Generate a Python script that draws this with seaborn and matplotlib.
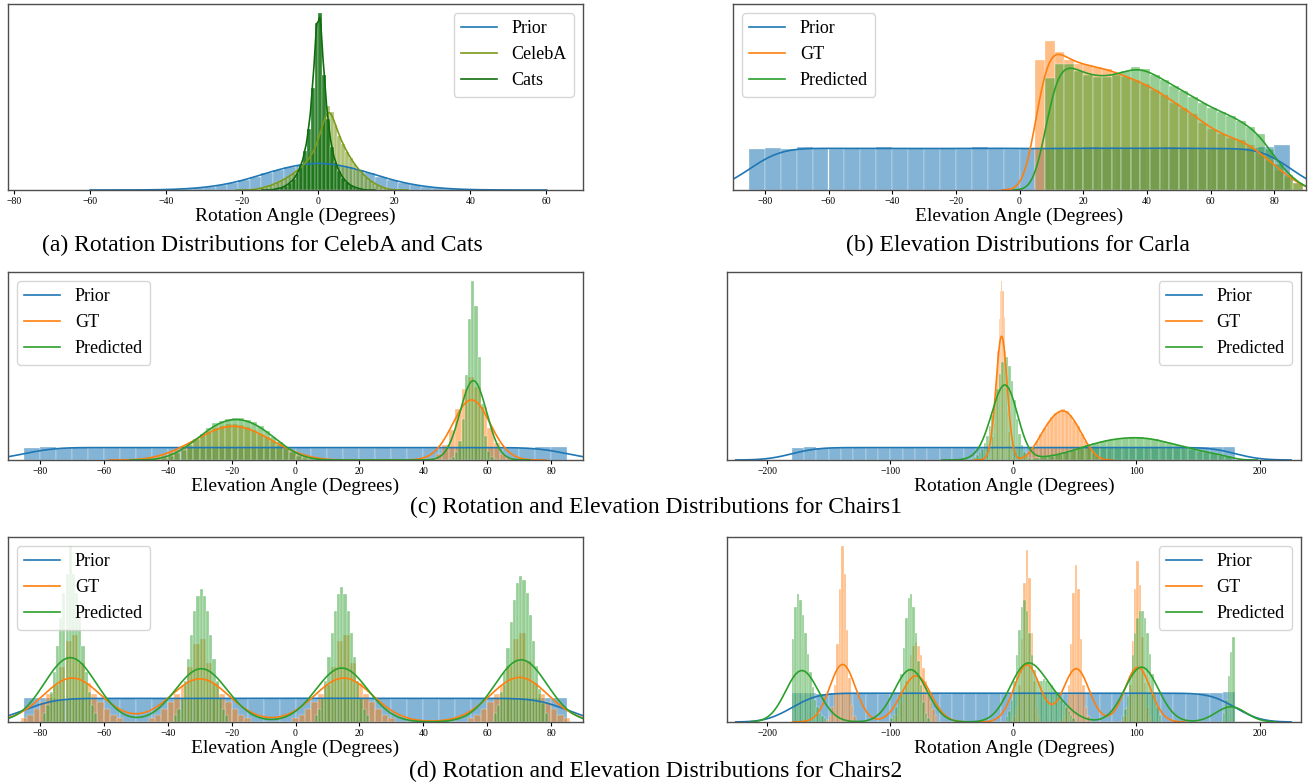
import numpy as np
import matplotlib
matplotlib.use("Agg")
import matplotlib.pyplot as plt
import seaborn as sns

plt.rcParams["font.family"] = ["Liberation Serif", "DejaVu Serif"]

# each series is a list of segments: (left edge, bin width, bar heights)
# heights are read as a fraction of the panel height

# (a) rotation, CelebA and Cats
a_prior = [(-48, 3, [0.0005, 0.001, 0.002, 0.004, 0.007, 0.011, 0.018, 0.027, 0.039, 0.054,
                     0.072, 0.092, 0.109, 0.125, 0.137, 0.144, 0.144, 0.137, 0.125, 0.109,
                     0.092, 0.072, 0.054, 0.039, 0.027, 0.018, 0.011, 0.007, 0.004, 0.002,
                     0.001, 0.0005])]
a_celeba = [(-17, 1, [0.005, 0.008, 0.012, 0.018, 0.025, 0.033, 0.042, 0.052, 0.063, 0.076,
                      0.09, 0.105, 0.122, 0.142, 0.165, 0.195, 0.24, 0.3, 0.38, 0.45,
                      0.42, 0.35, 0.29, 0.245, 0.205, 0.17, 0.14, 0.113, 0.09, 0.07,
                      0.053, 0.039, 0.027, 0.017, 0.01, 0.005])]
a_cats = [(-12, 1, [0.004, 0.008, 0.014, 0.024, 0.038, 0.058, 0.09, 0.135, 0.21, 0.33, 0.55, 0.9,
                    0.95, 0.62, 0.38, 0.23, 0.15, 0.1, 0.065, 0.042, 0.026, 0.016, 0.009, 0.004])]

# (b) elevation, Carla
b_prior = [(-85, 5, [0.22, 0.225, 0.22, 0.23, 0.225, 0.22, 0.225, 0.22, 0.23, 0.22, 0.225, 0.22,
                     0.225, 0.22, 0.23, 0.225, 0.22, 0.225, 0.22, 0.225, 0.22, 0.23, 0.225, 0.22,
                     0.225, 0.22, 0.23, 0.225, 0.22, 0.225, 0.22, 0.225, 0.23, 0.24])]
b_gt = [(5, 3, [0.7, 0.8, 0.74, 0.7, 0.68, 0.67, 0.66, 0.65, 0.63, 0.61, 0.59, 0.57, 0.54, 0.51,
                0.47, 0.44, 0.41, 0.36, 0.33, 0.3, 0.28, 0.27, 0.24, 0.2, 0.16, 0.11, 0.07, 0.04])]
b_pred = [(8, 3, [0.6, 0.68, 0.68, 0.64, 0.62, 0.61, 0.61, 0.62, 0.64, 0.66, 0.65, 0.62, 0.59, 0.56,
                  0.53, 0.5, 0.47, 0.44, 0.42, 0.4, 0.37, 0.34, 0.3, 0.22, 0.14, 0.08, 0.04])]

# (c) Chairs1, elevation
c1_prior = [(-85, 5, [0.066, 0.068, 0.066, 0.067, 0.066, 0.065, 0.066, 0.067, 0.066, 0.066, 0.065, 0.066,
                      0.067, 0.066, 0.066, 0.065, 0.066, 0.067, 0.066, 0.066, 0.065, 0.066, 0.067, 0.066,
                      0.066, 0.065, 0.066, 0.067, 0.066, 0.066, 0.065, 0.066, 0.067, 0.068])]
c1_gt = [(-48, 2, [0.005, 0.01, 0.017, 0.026, 0.04, 0.055, 0.072, 0.092, 0.112, 0.132, 0.15, 0.168,
                   0.18, 0.19, 0.19, 0.185, 0.175, 0.16, 0.14, 0.12, 0.1, 0.08, 0.062, 0.046, 0.032,
                   0.02, 0.012, 0.006, 0.003]),
         (42, 2, [0.01, 0.03, 0.08, 0.16, 0.27, 0.38, 0.44, 0.39, 0.28, 0.17, 0.09, 0.03, 0.01])]
c1_pred = [(-42, 2, [0.01, 0.02, 0.035, 0.055, 0.08, 0.11, 0.14, 0.17, 0.195, 0.21, 0.22, 0.225,
                     0.225, 0.215, 0.2, 0.18, 0.155, 0.125, 0.095, 0.065, 0.04, 0.022, 0.01, 0.004]),
           (48, 1, [0.005, 0.015, 0.04, 0.1, 0.22, 0.45, 0.75, 0.95, 0.82, 0.55, 0.3, 0.13, 0.05,
                    0.015, 0.005])]

# (c) Chairs1, rotation
c2_prior = [(-180, 10, [0.066, 0.067, 0.065, 0.066, 0.066, 0.067, 0.066, 0.065, 0.066, 0.067, 0.066, 0.066,
                        0.065, 0.066, 0.067, 0.066, 0.066, 0.065, 0.066, 0.067, 0.066, 0.066, 0.065, 0.066,
                        0.067, 0.066, 0.066, 0.065, 0.066, 0.067, 0.066, 0.066, 0.065, 0.067, 0.07, 0.068])]
c2_gt = [(-22, 1, [0.005, 0.01, 0.02, 0.04, 0.07, 0.12, 0.19, 0.29, 0.42, 0.58, 0.75, 0.9, 0.95,
                   0.9, 0.76, 0.58, 0.4, 0.26, 0.15, 0.08, 0.04, 0.02, 0.01, 0.005]),
         (6, 3, [0.01, 0.02, 0.04, 0.07, 0.1, 0.14, 0.17, 0.2, 0.23, 0.25, 0.26, 0.27, 0.26, 0.24,
                 0.21, 0.18, 0.14, 0.1, 0.07, 0.04, 0.02, 0.01])]
c2_pred = [(-36, 2, [0.005, 0.01, 0.015, 0.025, 0.04, 0.06, 0.09, 0.13, 0.18, 0.24, 0.31, 0.38, 0.46,
                     0.52, 0.55, 0.55, 0.5, 0.42, 0.32, 0.22, 0.14, 0.08, 0.045, 0.025, 0.012, 0.005]),
           (16, 6, [0.01, 0.015, 0.022, 0.03, 0.04, 0.052, 0.065, 0.078, 0.09, 0.1, 0.108, 0.114, 0.118,
                    0.12, 0.12, 0.116, 0.11, 0.1, 0.09, 0.08, 0.07, 0.06, 0.05, 0.042, 0.035, 0.028, 0.02])]

# (d) Chairs2, elevation
d1_prior = [(-85, 5, [0.128, 0.13, 0.127, 0.128, 0.126, 0.128, 0.129, 0.127, 0.128, 0.126, 0.128, 0.127,
                      0.129, 0.128, 0.126, 0.128, 0.13, 0.128, 0.127, 0.128, 0.126, 0.128, 0.129, 0.127,
                      0.128, 0.126, 0.128, 0.127, 0.129, 0.128, 0.126, 0.128, 0.13, 0.132])]
d1_gt = [(-86, 2, [0.02, 0.04, 0.07, 0.11, 0.15, 0.2, 0.3, 0.44, 0.47, 0.32, 0.21, 0.15, 0.11, 0.07, 0.04, 0.02]),
         (-46, 2, [0.02, 0.04, 0.07, 0.11, 0.15, 0.2, 0.3, 0.42, 0.45, 0.32, 0.21, 0.15, 0.11, 0.07, 0.04, 0.02]),
         (-1, 2, [0.02, 0.04, 0.07, 0.11, 0.15, 0.2, 0.3, 0.44, 0.47, 0.32, 0.21, 0.15, 0.11, 0.07, 0.04, 0.02]),
         (54, 2, [0.02, 0.04, 0.07, 0.11, 0.15, 0.2, 0.3, 0.45, 0.48, 0.33, 0.21, 0.15, 0.11, 0.07, 0.04, 0.02])]
d1_pred = [(-79, 1, [0.05, 0.09, 0.16, 0.27, 0.41, 0.56, 0.7, 0.8, 0.95, 0.8, 0.7, 0.56, 0.41, 0.27, 0.16, 0.09, 0.05]),
           (-38, 1, [0.04, 0.07, 0.13, 0.22, 0.34, 0.47, 0.6, 0.68, 0.72, 0.68, 0.6, 0.47, 0.34, 0.22, 0.13, 0.07, 0.04]),
           (6, 1, [0.04, 0.07, 0.13, 0.22, 0.35, 0.48, 0.6, 0.69, 0.73, 0.69, 0.6, 0.48, 0.35, 0.22, 0.13, 0.07, 0.04]),
           (62, 1, [0.05, 0.09, 0.16, 0.27, 0.4, 0.54, 0.66, 0.75, 0.79, 0.77, 0.7, 0.58, 0.44, 0.3, 0.18, 0.1, 0.05])]

# (d) Chairs2, rotation
d2_prior = [(-180, 10, [0.155, 0.157, 0.154, 0.156, 0.155, 0.157, 0.155, 0.154, 0.156, 0.155, 0.157, 0.155,
                        0.154, 0.156, 0.155, 0.157, 0.155, 0.154, 0.156, 0.155, 0.157, 0.155, 0.154, 0.156,
                        0.155, 0.157, 0.155, 0.154, 0.156, 0.155, 0.157, 0.155, 0.154, 0.156, 0.158, 0.16])]
d2_gt = [(-152, 2, [0.01, 0.03, 0.08, 0.2, 0.42, 0.72, 0.95, 0.8, 0.5, 0.24, 0.09, 0.03]),
         (-98, 2, [0.02, 0.04, 0.07, 0.11, 0.16, 0.22, 0.29, 0.36, 0.41, 0.43, 0.41, 0.36, 0.29, 0.22,
                   0.16, 0.11, 0.07, 0.04]),
         (-2, 2, [0.01, 0.03, 0.08, 0.2, 0.45, 0.75, 0.93, 0.78, 0.48, 0.22, 0.08, 0.03]),
         (38, 2, [0.01, 0.03, 0.08, 0.2, 0.42, 0.7, 0.85, 0.72, 0.45, 0.2, 0.08, 0.03]),
         (88, 2, [0.01, 0.03, 0.08, 0.2, 0.44, 0.72, 0.87, 0.74, 0.46, 0.21, 0.08, 0.03])]
d2_pred = [(-180, 2, [0.45, 0.62, 0.69, 0.66, 0.58, 0.48, 0.37, 0.27, 0.19, 0.12, 0.08, 0.05, 0.03, 0.02]),
           (-100, 2, [0.02, 0.04, 0.08, 0.15, 0.26, 0.4, 0.56, 0.67, 0.69, 0.62, 0.48, 0.33, 0.2, 0.11,
                      0.05, 0.02]),
           (-6, 2, [0.03, 0.06, 0.12, 0.22, 0.36, 0.5, 0.62, 0.66, 0.6, 0.48, 0.36, 0.28, 0.24, 0.22,
                    0.22, 0.23, 0.22, 0.21, 0.2, 0.18, 0.16, 0.14, 0.12, 0.1, 0.08, 0.06, 0.04, 0.02]),
           (88, 2, [0.03, 0.07, 0.14, 0.24, 0.36, 0.48, 0.56, 0.6, 0.6, 0.56, 0.48, 0.37, 0.26, 0.16,
                    0.08, 0.04]),
           (170, 2, [0.05, 0.12, 0.25, 0.38, 0.46])]

BLUE, ORANGE, GREEN = "#1f77b4", "#ff7f0e", "#2ca02c"


def draw(ax, segments, color, label, bw, alpha=0.5):
    centers, mass, edges = [], [], []
    for lo, w, h in segments:
        e = lo + w * np.arange(len(h) + 1)
        centers.extend(e[:-1] + w / 2)
        mass.extend(np.asarray(h) * w)   # frequency stat divides by bin width again
        edges.extend(e)
    edges = [float(v) for v in np.unique(np.round(edges, 6))]
    sns.histplot(x=centers, weights=mass, bins=edges, stat="frequency", kde=True,
                 kde_kws={"bw_method": bw, "cut": 3}, color=color, alpha=alpha,
                 edgecolor="white", linewidth=0.2,
                 line_kws={"label": label, "lw": 1.2}, ax=ax)


def style(ax, xlim, ticks, xlabel, loc):
    ax.set_xlim(*xlim)
    ax.set_ylim(0, 1)
    ax.set_xticks(ticks)
    ax.set_yticks([])
    ax.set_ylabel("")
    ax.tick_params(axis="x", labelsize=7, length=3, width=0.8, pad=2)
    ax.set_xlabel(xlabel, fontsize=14, labelpad=1)
    for s in ax.spines.values():
        s.set_color("0.3")
        s.set_linewidth(1.0)
    ax.legend(loc=loc, fontsize=13)


W, H = 1313, 782
fig = plt.figure(figsize=(W / 100, H / 100), dpi=100)


def add_ax(x0, x1, y0, y1):
    return fig.add_axes([x0 / W, 1 - y1 / H, (x1 - x0) / W, (y1 - y0) / H])


ax = add_ax(8, 583, 4, 190)
draw(ax, a_prior, BLUE, "Prior", 0.16, alpha=0.55)
draw(ax, a_celeba, "#7a9a1a", "CelebA", 0.16, alpha=0.6)
draw(ax, a_cats, "#0e6e0e", "Cats", 0.16, alpha=0.85)
style(ax, (-81.6, 69.6), range(-80, 61, 20), "Rotation Angle (Degrees)", "upper right")

ax = add_ax(733, 1306, 4, 190)
draw(ax, b_prior, BLUE, "Prior", 0.16, alpha=0.55)
draw(ax, b_gt, ORANGE, "GT", 0.16)
draw(ax, b_pred, GREEN, "Predicted", 0.16)
style(ax, (-90, 90), range(-80, 81, 20), "Elevation Angle (Degrees)", "upper left")

ax = add_ax(8, 583, 272, 460)
draw(ax, c1_prior, BLUE, "Prior", 0.16, alpha=0.55)
draw(ax, c1_gt, ORANGE, "GT", 0.1)
draw(ax, c1_pred, GREEN, "Predicted", 0.095)
style(ax, (-90, 90), range(-80, 81, 20), "Elevation Angle (Degrees)", "upper left")

ax = add_ax(727, 1301, 272, 460)
draw(ax, c2_prior, BLUE, "Prior", 0.16, alpha=0.55)
draw(ax, c2_gt, ORANGE, "GT", 0.12)
draw(ax, c2_pred, GREEN, "Predicted", 0.12)
style(ax, (-232.7, 233.7), [-200, -100, 0, 100, 200], "Rotation Angle (Degrees)", "upper right")

ax = add_ax(8, 583, 537, 722)
draw(ax, d1_prior, BLUE, "Prior", 0.16, alpha=0.55)
draw(ax, d1_gt, ORANGE, "GT", 0.135)
draw(ax, d1_pred, GREEN, "Predicted", 0.135)
style(ax, (-90, 90), range(-80, 81, 20), "Elevation Angle (Degrees)", "upper left")

ax = add_ax(727, 1301, 537, 722)
draw(ax, d2_prior, BLUE, "Prior", 0.16, alpha=0.55)
draw(ax, d2_gt, ORANGE, "GT", 0.11)
draw(ax, d2_pred, GREEN, "Predicted", 0.11)
style(ax, (-232.7, 233.7), [-200, -100, 0, 100, 200], "Rotation Angle (Degrees)", "upper right")

fig.text(262 / W, 1 - 245 / H, "(a) Rotation Distributions for CelebA and Cats",
         ha="center", va="center", fontsize=17)
fig.text(1018 / W, 1 - 245 / H, "(b) Elevation Distributions for Carla",
         ha="center", va="center", fontsize=17)
fig.text(656 / W, 1 - 507 / H, "(c) Rotation and Elevation Distributions for Chairs1",
         ha="center", va="center", fontsize=17)
fig.text(656 / W, 1 - 771 / H, "(d) Rotation and Elevation Distributions for Chairs2",
         ha="center", va="center", fontsize=17)

fig.savefig("out.png", dpi=100)
